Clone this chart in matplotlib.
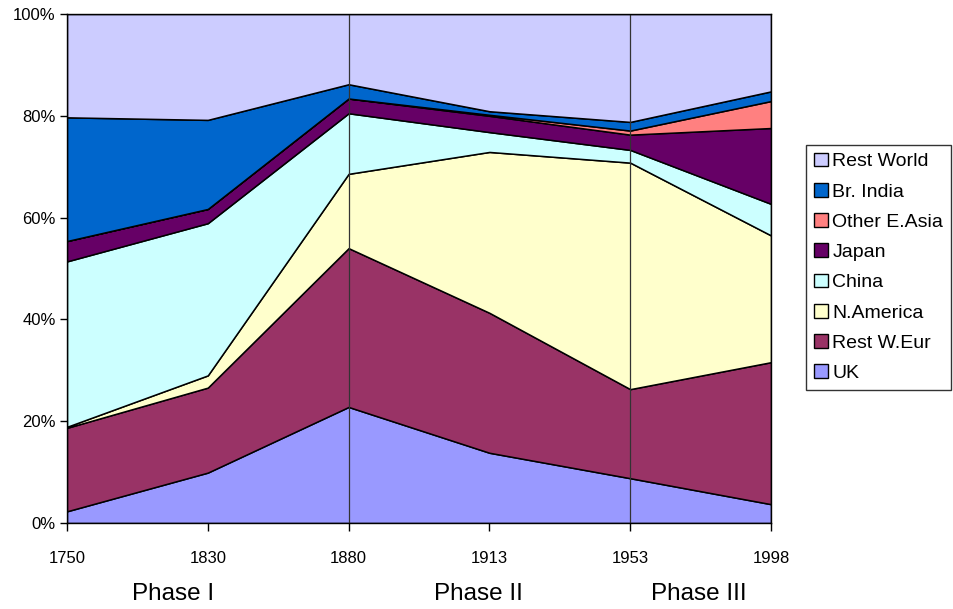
import numpy as np
import matplotlib.pyplot as plt
from matplotlib.patches import Patch

plt.rcParams['font.family'] = ['Liberation Sans', 'DejaVu Sans']

# Category labels (years) and regional shares of world GDP in %
years = ['1750', '1830', '1880', '1913', '1953', '1998']
uk = [2.3, 9.9, 22.8, 13.8, 8.8, 3.7]
rest_weur = [16.4, 16.7, 31.2, 27.5, 17.5, 27.9]
n_america = [0.2, 2.4, 14.6, 31.6, 44.5, 24.9]
china = [32.5, 29.9, 11.9, 3.9, 2.5, 6.2]
japan = [4.0, 2.8, 2.9, 3.2, 3.0, 14.9]
other_easia = [0.0, 0.0, 0.0, 0.2, 0.8, 5.3]
br_india = [24.3, 17.5, 2.8, 0.7, 1.7, 1.9]
rest_world = [20.3, 20.8, 13.8, 19.1, 21.2, 15.2]

labels = ['UK', 'Rest W.Eur', 'N.America', 'China', 'Japan',
          'Other E.Asia', 'Br. India', 'Rest World']
colors = ['#9999FF', '#993366', '#FFFFCC', '#CCFFFF', '#660066',
          '#FF8080', '#0066CC', '#CCCCFF']

phases = ['Phase I', 'Phase II', 'Phase III']

series = np.array([uk, rest_weur, n_america, china, japan,
                   other_easia, br_india, rest_world])
series = series / series.sum(axis=0) * 100
x = np.arange(len(years))

fig = plt.figure(figsize=(9.54, 6.09), dpi=100)
ax = fig.add_axes([0.0702, 0.1412, 0.738, 0.8358])

ax.stackplot(x, series, colors=colors, edgecolor='black', linewidth=1.1)

# vertical separators between the phases
for xv in [2, 4]:
    ax.axvline(xv, color='#333333', linewidth=0.9)

ax.set_xlim(0, len(years) - 1)
ax.set_ylim(0, 100)
ax.set_xticks(x)
ax.set_xticklabels(years, fontsize=12)
ax.set_yticks(np.arange(0, 101, 20))
ax.set_yticklabels([f'{v}%' for v in range(0, 101, 20)], fontsize=12)
ax.tick_params(axis='x', direction='out', length=6, width=1, pad=14)
ax.tick_params(axis='y', direction='out', length=5, width=1, pad=3)
for s in ax.spines.values():
    s.set_linewidth(1)
    s.set_color('black')

handles = [Patch(facecolor=c, edgecolor='black', linewidth=1, label=l)
           for c, l in zip(colors, labels)][::-1]
leg = fig.legend(handles=handles, loc='upper left',
                 bbox_to_anchor=(0.845, 0.762), fontsize=14,
                 frameon=True, fancybox=False, edgecolor='black',
                 handlelength=0.7, handleheight=0.7, handletextpad=0.25,
                 labelspacing=0.65, borderpad=0.4, borderaxespad=0)
leg.get_frame().set_linewidth(1)

for px, txt in zip([0.181, 0.501, 0.733], phases):
    fig.text(px, 0.025, txt, fontsize=17.5, ha='center', va='center')

plt.savefig('out.png', dpi=100)
